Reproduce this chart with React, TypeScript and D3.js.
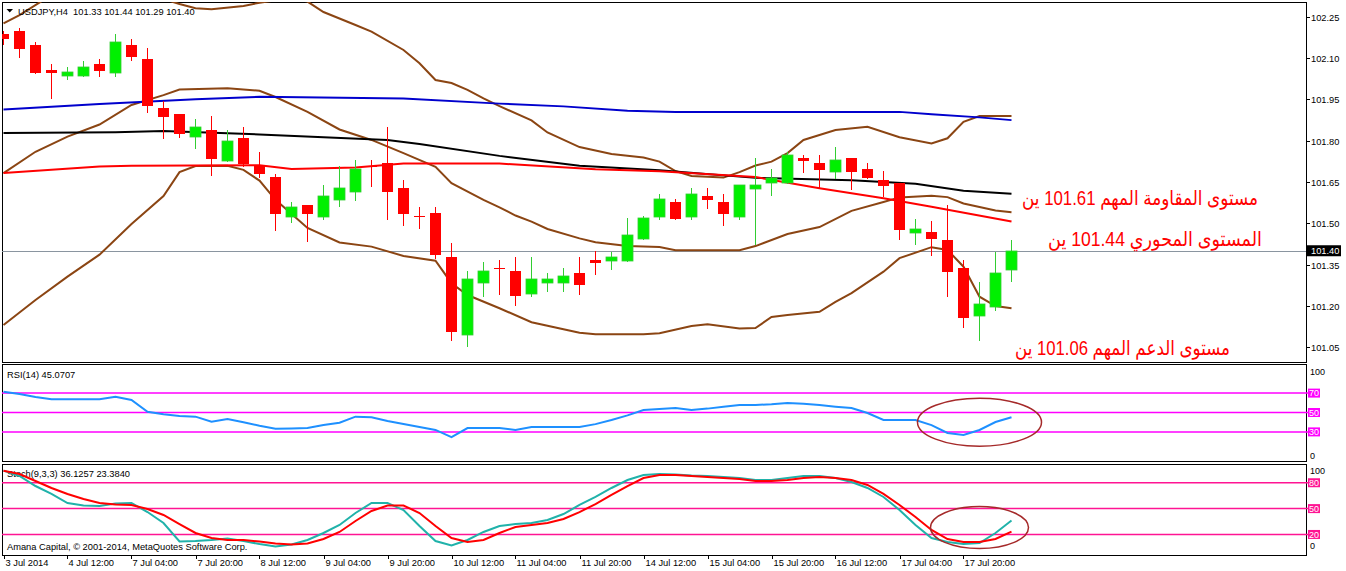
import * as React from 'react';
import * as d3 from 'd3';

const chartWidth = 1346;
const chartHeight = 571;
const frameLeft = 2;
const frameRight = 1306;
const mainPanel = { top: 2, bottom: 362 };
const rsiPanel = { top: 364, bottom: 461 };
const stochPanel = { top: 464, bottom: 555 };

// USDJPY H4 candles, 3 Jul 20:00 .. 18 Jul 08:00
const opens = [102.19, 102.199, 102.148, 102.057, 102.037, 102.037, 102.079, 102.047, 102.148, 102.097,
    101.919, 101.897, 101.815, 101.839, 101.727, 101.81, 101.712, 101.668, 101.524, 101.566,
    101.524, 101.586, 101.615, 101.709, 101.719, 101.628, 101.526, 101.537, 101.377, 101.095,
    101.284, 101.337, 101.326, 101.244, 101.284, 101.284, 101.319, 101.366, 101.364, 101.364,
    101.444, 101.524, 101.577, 101.524, 101.599, 101.577, 101.524, 101.626, 101.647, 101.647,
    101.737, 101.719, 101.687, 101.737, 101.697, 101.657, 101.647, 101.466, 101.468, 101.439,
    101.337, 101.164, 101.197, 101.33];
const highs = [102.2, 102.211, 102.159, 102.079, 102.067, 102.09, 102.097, 102.189, 102.17, 102.136,
    101.943, 101.897, 101.879, 101.89, 101.839, 101.85, 101.759, 101.68, 101.577, 101.566,
    101.639, 101.708, 101.73, 101.73, 101.85, 101.657, 101.559, 101.559, 101.427, 101.326,
    101.359, 101.366, 101.377, 101.377, 101.319, 101.337, 101.377, 101.399, 101.395, 101.519,
    101.526, 101.606, 101.588, 101.628, 101.628, 101.606, 101.639, 101.737, 101.697, 101.759,
    101.748, 101.748, 101.777, 101.737, 101.719, 101.69, 101.647, 101.517, 101.508, 101.566,
    101.366, 101.286, 101.397, 101.44];
const lows = [102.15, 102.106, 102.047, 101.957, 102.026, 102.037, 102.037, 102.037, 102.094, 101.906,
    101.809, 101.815, 101.775, 101.677, 101.727, 101.709, 101.669, 101.477, 101.506, 101.437,
    101.517, 101.564, 101.586, 101.637, 101.517, 101.495, 101.484, 101.375, 101.077, 101.055,
    101.237, 101.244, 101.204, 101.237, 101.255, 101.255, 101.244, 101.317, 101.335, 101.364,
    101.444, 101.517, 101.517, 101.517, 101.557, 101.495, 101.517, 101.426, 101.604, 101.647,
    101.687, 101.629, 101.666, 101.626, 101.666, 101.6, 101.444, 101.426, 101.386, 101.237,
    101.124, 101.077, 101.186, 101.29];
const closes = [102.17, 102.134, 102.047, 102.047, 102.05, 102.068, 102.055, 102.159, 102.106, 101.927,
    101.887, 101.826, 101.85, 101.735, 101.799, 101.717, 101.678, 101.535, 101.559, 101.535,
    101.599, 101.628, 101.697, 101.706, 101.615, 101.535, 101.523, 101.386, 101.106, 101.297,
    101.326, 101.335, 101.237, 101.297, 101.297, 101.308, 101.277, 101.357, 101.377, 101.457,
    101.519, 101.588, 101.517, 101.606, 101.586, 101.535, 101.639, 101.639, 101.666, 101.748,
    101.727, 101.695, 101.73, 101.687, 101.666, 101.637, 101.477, 101.479, 101.444, 101.324,
    101.157, 101.206, 101.319, 101.40];

const timeLabels = ['3 Jul 2014', '4 Jul 12:00', '7 Jul 04:00', '7 Jul 20:00', '8 Jul 12:00', '9 Jul 04:00',
    '9 Jul 20:00', '10 Jul 12:00', '11 Jul 04:00', '11 Jul 20:00', '14 Jul 12:00', '15 Jul 04:00',
    '15 Jul 20:00', '16 Jul 12:00', '17 Jul 04:00', '17 Jul 20:00'];
const priceTicks = [102.25, 102.10, 101.95, 101.80, 101.65, 101.50, 101.35, 101.20, 101.05];
const lastPrice = 101.40;

// indicator lines: [bar index, value]
const blueMa: [number, number][] = [[0, 101.914], [6, 101.934], [12, 101.951], [16, 101.96], [25, 101.954],
    [31, 101.935], [35, 101.925], [39, 101.909], [42, 101.905], [56, 101.905], [58, 101.896], [61, 101.885], [63, 101.875]];
const blackMa: [number, number][] = [[0, 101.828], [7, 101.831], [10, 101.835], [16, 101.823], [20, 101.813],
    [24, 101.803], [26, 101.788], [31, 101.745], [36, 101.709], [41, 101.693], [47, 101.665], [53, 101.656],
    [57, 101.644], [60, 101.618], [63, 101.607]];
const redMa: [number, number][] = [[0, 101.683], [6, 101.706], [8, 101.709], [16, 101.711], [18, 101.697],
    [22, 101.703], [25, 101.717], [31, 101.717], [37, 101.696], [41, 101.689], [47, 101.668], [51, 101.627],
    [55, 101.591], [58, 101.56], [63, 101.506]];
const bandUpper: [number, number][] = [[0, 102.227], [1, 102.257], [3, 102.33], [5, 102.348], [7, 102.352],
    [9, 102.334], [11, 102.297], [12, 102.282], [13, 102.278], [15, 102.29], [16, 102.302], [18, 102.319],
    [19, 102.306], [20, 102.268], [22, 102.221], [23, 102.197], [25, 102.13], [26, 102.082], [27, 102.021],
    [28, 102.01], [29, 101.985], [30, 101.954], [31, 101.926], [33, 101.874], [34, 101.83], [36, 101.777],
    [38, 101.752], [40, 101.739], [41, 101.724], [42, 101.69], [43, 101.672], [45, 101.666], [46, 101.686],
    [47, 101.71], [48, 101.724], [49, 101.755], [50, 101.803], [52, 101.839], [54, 101.851], [56, 101.813],
    [58, 101.79], [59, 101.809], [60, 101.869], [61, 101.89], [63, 101.89]];
const bandMiddle: [number, number][] = [[0, 101.682], [2, 101.76], [4, 101.815], [6, 101.859], [8, 101.93],
    [10, 101.966], [11, 101.986], [14, 101.991], [16, 101.982], [17, 101.959], [19, 101.905], [21, 101.841],
    [23, 101.803], [25, 101.755], [27, 101.705], [28, 101.646], [30, 101.585], [31, 101.558], [32, 101.528],
    [33, 101.506], [34, 101.479], [36, 101.445], [37, 101.431], [39, 101.417], [41, 101.414], [42, 101.402],
    [46, 101.402], [47, 101.417], [49, 101.461], [51, 101.486], [53, 101.545], [55, 101.577], [56, 101.594],
    [58, 101.6], [59, 101.595], [60, 101.572], [61, 101.559], [62, 101.546], [63, 101.54]];
const bandLower: [number, number][] = [[0, 101.13], [2, 101.221], [4, 101.306], [6, 101.386], [8, 101.497],
    [10, 101.599], [11, 101.686], [12, 101.708], [14, 101.709], [15, 101.694], [16, 101.655], [17, 101.585],
    [19, 101.483], [21, 101.43], [23, 101.415], [25, 101.381], [27, 101.364], [28, 101.282], [29, 101.239],
    [31, 101.191], [33, 101.14], [36, 101.102], [37, 101.096], [40, 101.096], [41, 101.1], [43, 101.126],
    [44, 101.133], [46, 101.117], [47, 101.119], [48, 101.159], [49, 101.166], [51, 101.178], [52, 101.214],
    [53, 101.246], [55, 101.324], [56, 101.373], [58, 101.413], [59, 101.403], [60, 101.342], [61, 101.233],
    [62, 101.199], [63, 101.191]];

const rsiValues = [71.4, 69.1, 66, 63.6, 63.6, 63.6, 63.6, 66.3, 62.9, 50.8,
    48.1, 46.5, 45.7, 40.5, 43.3, 39.9, 36.4, 33.3, 33.5, 34,
    37.1, 39.5, 45.7, 45.1, 41.2, 38.1, 35, 32, 24.7, 34,
    34, 34, 32, 35, 35, 35, 35, 38, 42.3, 47,
    52.6, 53.5, 54.6, 52.6, 54, 56, 57.7, 57.7, 58.5, 59.8,
    59, 57.7, 56, 54.6, 49.5, 42.3, 42.3, 42.3, 37, 28.9,
    26.8, 32, 40.2, 45.07];
const rsiLevels = [70, 50, 30];

const stochMain = [94, 87.8, 76.2, 67, 56.5, 53.6, 53, 55.9, 56.5, 46,
    33.3, 11.8, 12.4, 13.6, 15.3, 12.4, 8.9, 6, 8.4, 13.6,
    21.7, 31, 44.9, 56.5, 56.5, 48.4, 29.8, 12.4, 7.2, 13.6,
    22.9, 29.8, 32.1, 33.3, 36.8, 43.7, 54.2, 63.5, 73.9, 83.2,
    89, 90.1, 89.6, 88.4, 87.8, 86.7, 85.5, 83.2, 83.2, 85.5,
    87.8, 87.8, 85.5, 80.9, 73.9, 63.5, 48.4, 31, 15.9, 11.3,
    8.9, 10.1, 21.7, 36.13];
const stochSignal = [94, 90.1, 82, 73.9, 67, 61.1, 56.5, 54.8, 54.2, 49.5,
    42.6, 32.1, 21.7, 15.9, 13.6, 13.6, 11.8, 9.5, 8.4, 9.5,
    14.7, 22.9, 35.6, 47.2, 53.6, 53.6, 44.9, 29.8, 15.9, 11.3,
    13.6, 21.7, 28.7, 31, 33.3, 37.9, 46, 55.3, 65.8, 76.2,
    85.5, 89, 89, 87.8, 86.7, 85.5, 84.3, 82, 82, 83.2,
    85.5, 86.7, 85.5, 83.2, 77.4, 67, 54.2, 40.3, 25.2, 14.7,
    11.3, 11.3, 14.7, 23.38];
const stochLevels = [80, 50, 20];

const notes = [
    { text: 'مستوى المقاومة المهم 101.61 ين', right: 1258, baseline: 205, width: 236 },
    { text: 'المستوى المحوري 101.44 ين', right: 1262, baseline: 246, width: 214 },
    { text: 'مستوى الدعم المهم 101.06 ين', right: 1230, baseline: 355, width: 215 },
];

const axisFont = '"Liberation Sans", Arial, sans-serif';

class App extends React.Component<object, object> {
    private svgElement: SVGSVGElement | null = null;

    render() {
        return <svg
            ref={node => { this.svgElement = node; }}
            width={chartWidth}
            height={chartHeight}
            style={{ position: 'absolute', left: 0, top: 0, background: '#fff' }}>
        </svg>;
    }

    componentDidMount() {
        this.drawChart();
    }

    drawChart() {
        const svg = d3.select(this.svgElement);
        svg.selectAll('*').remove();

        const x = d3.scaleLinear().domain([0, 63]).range([3.5, 1011.5]);
        const yMain = d3.scaleLinear().domain([101.05, 102.25]).range([347, 17]);
        const yRsi = d3.scaleLinear().domain([0, 100]).range([461, 364]);
        const yStoch = d3.scaleLinear().domain([0, 100]).range([551.7, 465.5]);

        const defs = svg.append('defs');
        defs.append('clipPath').attr('id', 'mainClip')
            .append('rect')
            .attr('x', frameLeft).attr('y', mainPanel.top)
            .attr('width', frameRight - frameLeft).attr('height', mainPanel.bottom - mainPanel.top);

        // panel frames
        [mainPanel, rsiPanel, stochPanel].forEach(p => {
            svg.append('rect')
                .attr('x', frameLeft + 0.5).attr('y', p.top + 0.5)
                .attr('width', frameRight - frameLeft).attr('height', p.bottom - p.top)
                .attr('fill', 'none').attr('stroke', '#000').attr('stroke-width', 1);
        });

        // ---- main panel ----
        const main = svg.append('g').attr('clip-path', 'url(#mainClip)');

        main.append('line')
            .attr('x1', frameLeft).attr('x2', frameRight)
            .attr('y1', Math.round(yMain(lastPrice)) + 0.5).attr('y2', Math.round(yMain(lastPrice)) + 0.5)
            .attr('stroke', '#8a95a0').attr('stroke-width', 1);

        const priceLine = d3.line<[number, number]>()
            .x(d => x(d[0]))
            .y(d => yMain(d[1]));

        const drawLine = (data: [number, number][], color: string) => {
            main.append('path')
                .datum(data)
                .attr('d', priceLine)
                .attr('fill', 'none')
                .attr('stroke', color)
                .attr('stroke-width', 2);
        };
        drawLine(bandUpper, '#8b4513');
        drawLine(bandMiddle, '#8b4513');
        drawLine(bandLower, '#8b4513');
        drawLine(blueMa, '#0000cd');
        drawLine(blackMa, '#000000');
        drawLine(redMa, '#ff0000');

        const candles = opens.map((o, i) => ({ i, o, h: highs[i], l: lows[i], c: closes[i] }));
        const bull = '#00f000';
        const bear = '#ff0000';

        const candleGroups = main.selectAll('g.candle')
            .data(candles)
            .enter()
            .append('g')
            .classed('candle', true);

        candleGroups.append('line')
            .attr('x1', d => x(d.i)).attr('x2', d => x(d.i))
            .attr('y1', d => Math.round(yMain(d.h))).attr('y2', d => Math.round(yMain(d.l)) + 1)
            .attr('stroke', d => d.c >= d.o ? '#32cd32' : bear)
            .attr('stroke-width', 1);

        candleGroups.append('rect')
            .attr('x', d => x(d.i) - 5.5)
            .attr('width', 11)
            .attr('y', d => Math.round(yMain(Math.max(d.o, d.c))))
            .attr('height', d => Math.max(1, Math.round(yMain(Math.min(d.o, d.c))) - Math.round(yMain(Math.max(d.o, d.c)))))
            .attr('fill', d => d.c >= d.o ? bull : bear)
            .attr('stroke', d => d.c >= d.o ? '#32cd32' : 'none')
            .attr('stroke-width', 0.8);

        // header
        svg.append('path')
            .attr('d', 'M6.5,9 L13,9 L9.75,12.5 Z')
            .attr('fill', '#000');
        svg.append('text')
            .attr('x', 18).attr('y', 14.5)
            .attr('font-family', axisFont).attr('font-size', 9.3)
            .attr('fill', '#000')
            .attr('xml:space', 'preserve')
            .text(`USDJPY,H4  ${opens[63].toFixed(2)} ${highs[63].toFixed(2)} ${lows[63].toFixed(2)} ${closes[63].toFixed(2)}`);

        // price axis
        const axisG = svg.append('g');
        priceTicks.forEach(t => {
            const yy = Math.round(yMain(t)) + 0.5;
            axisG.append('line')
                .attr('x1', frameRight).attr('x2', frameRight + 4)
                .attr('y1', yy).attr('y2', yy)
                .attr('stroke', '#000');
            axisG.append('text')
                .attr('x', frameRight + 5).attr('y', yy + 3.3)
                .attr('font-family', axisFont).attr('font-size', 9.3)
                .text(t.toFixed(2));
        });
        const lastY = yMain(lastPrice);
        axisG.append('rect')
            .attr('x', frameRight + 1).attr('y', lastY - 5.5)
            .attr('width', 34).attr('height', 11)
            .attr('fill', '#000');
        axisG.append('text')
            .attr('x', frameRight + 5).attr('y', lastY + 3.3)
            .attr('font-family', axisFont).attr('font-size', 9.3)
            .attr('fill', '#fff')
            .text(lastPrice.toFixed(2));

        // arabic notes
        notes.forEach(n => {
            svg.append('text')
                .attr('x', n.right).attr('y', n.baseline)
                .attr('direction', 'rtl')
                .attr('text-anchor', 'start')
                .attr('textLength', n.width)
                .attr('lengthAdjust', 'spacingAndGlyphs')
                .attr('font-family', 'Arial, "Liberation Sans", "DejaVu Sans", sans-serif')
                .attr('font-size', 20)
                .attr('fill', '#ff0000')
                .text(n.text);
        });

        // ---- RSI panel ----
        const rsiG = svg.append('g');
        rsiG.append('text')
            .attr('x', 7).attr('y', 377.5)
            .attr('font-family', axisFont).attr('font-size', 9.3)
            .text('RSI(14) 45.0707');
        rsiLevels.forEach(l => {
            const yy = yRsi(l);
            rsiG.append('line')
                .attr('x1', frameLeft).attr('x2', frameRight + 2)
                .attr('y1', yy).attr('y2', yy)
                .attr('stroke', '#ff00ff').attr('stroke-width', 1.5);
            rsiG.append('rect')
                .attr('x', frameRight + 2).attr('y', yy - 4.5)
                .attr('width', 12).attr('height', 9)
                .attr('fill', '#ff00ff');
            rsiG.append('text')
                .attr('x', frameRight + 3).attr('y', yy + 3.2)
                .attr('font-family', axisFont).attr('font-size', 9)
                .attr('fill', '#fff')
                .text(String(l));
        });
        rsiG.append('text').attr('x', frameRight + 4).attr('y', 375)
            .attr('font-family', axisFont).attr('font-size', 9).text('100');
        rsiG.append('text').attr('x', frameRight + 4).attr('y', 459)
            .attr('font-family', axisFont).attr('font-size', 9).text('0');

        const rsiLine = d3.line<number>()
            .x((d, i) => x(i))
            .y(d => yRsi(d));
        rsiG.append('path')
            .datum(rsiValues)
            .attr('d', rsiLine)
            .attr('fill', 'none')
            .attr('stroke', '#1e90ff')
            .attr('stroke-width', 2);
        rsiG.append('ellipse')
            .attr('cx', x(61)).attr('cy', yRsi(40))
            .attr('rx', 62).attr('ry', 24)
            .attr('fill', 'none')
            .attr('stroke', '#a52a2a')
            .attr('stroke-width', 1.5);

        // ---- Stochastic panel ----
        const stG = svg.append('g');
        stG.append('text')
            .attr('x', 7).attr('y', 477)
            .attr('font-family', axisFont).attr('font-size', 9.3)
            .text('Stoch(9,3,3) 36.1257 23.3840');
        stG.append('text')
            .attr('x', 7).attr('y', 549.5)
            .attr('font-family', axisFont).attr('font-size', 9.3)
            .text('Amana Capital, © 2001-2014, MetaQuotes Software Corp.');
        stochLevels.forEach(l => {
            const yy = yStoch(l);
            stG.append('line')
                .attr('x1', frameLeft).attr('x2', frameRight + 2)
                .attr('y1', yy).attr('y2', yy)
                .attr('stroke', '#ff1493').attr('stroke-width', 1.5);
            stG.append('rect')
                .attr('x', frameRight + 2).attr('y', yy - 4.5)
                .attr('width', 12).attr('height', 9)
                .attr('fill', '#ff1493');
            stG.append('text')
                .attr('x', frameRight + 3).attr('y', yy + 3.2)
                .attr('font-family', axisFont).attr('font-size', 9)
                .attr('fill', '#fff')
                .text(String(l));
        });
        stG.append('text').attr('x', frameRight + 4).attr('y', 474)
            .attr('font-family', axisFont).attr('font-size', 9).text('100');
        stG.append('text').attr('x', frameRight + 4).attr('y', 549)
            .attr('font-family', axisFont).attr('font-size', 9).text('0');

        const stochLine = d3.line<number>()
            .x((d, i) => x(i))
            .y(d => yStoch(d));
        stG.append('path')
            .datum(stochMain)
            .attr('d', stochLine)
            .attr('fill', 'none')
            .attr('stroke', '#20b2aa')
            .attr('stroke-width', 2);
        stG.append('path')
            .datum(stochSignal)
            .attr('d', stochLine)
            .attr('fill', 'none')
            .attr('stroke', '#ff0000')
            .attr('stroke-width', 2);
        stG.append('ellipse')
            .attr('cx', x(61)).attr('cy', yStoch(28))
            .attr('rx', 49).attr('ry', 21)
            .attr('fill', 'none')
            .attr('stroke', '#a52a2a')
            .attr('stroke-width', 1.5);

        // ---- time axis ----
        const tG = svg.append('g');
        timeLabels.forEach((lab, k) => {
            const xx = Math.round(x(k * 4)) + 0.5;
            tG.append('line')
                .attr('x1', xx).attr('x2', xx)
                .attr('y1', stochPanel.bottom).attr('y2', stochPanel.bottom + 4)
                .attr('stroke', '#000');
            tG.append('text')
                .attr('x', xx + 1).attr('y', 566)
                .attr('font-family', axisFont).attr('font-size', 9.3)
                .text(lab);
        });
    }
}

export default App;
